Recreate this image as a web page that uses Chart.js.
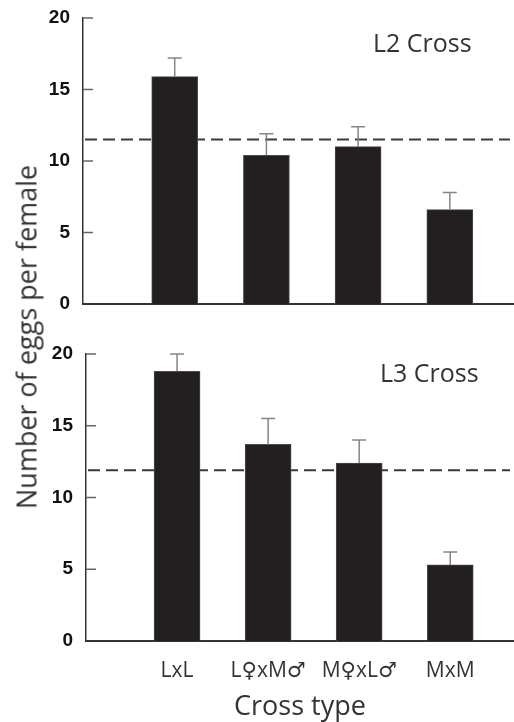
<!DOCTYPE html>
<html>
<head>
<meta charset="utf-8">
<script src="https://cdn.jsdelivr.net/npm/chart.js@4.4.0/dist/chart.umd.min.js"></script>
<style>
  body { margin: 0; background: #fff; }
  #wrap { position: relative; width: 514px; height: 722px; font-family: "Open Sans", sans-serif; color: #333; }
  canvas { position: absolute; left: 0; }
  .tag { position: absolute; font-size: 25px; line-height: 25px; white-space: nowrap; }
  #ytitle { position: absolute; left: 26px; top: 337px; font-size: 27px; white-space: nowrap;
            transform: translate(-50%, -50%) rotate(-90deg); }
</style>
</head>
<body>
<div id="wrap">
  <canvas id="top" width="514" height="330" style="top:0"></canvas>
  <canvas id="bottom" width="514" height="402" style="top:320px"></canvas>
  <div class="tag" style="left:373px; top:30px">L2 Cross</div>
  <div class="tag" style="left:380px; top:360px">L3 Cross</div>
  <div id="ytitle">Number of eggs per female</div>
</div>
<script>
//data
const crossTypes = ["LxL", "L♀xM♂", "M♀xL♂", "MxM"];
const yTicks = [0, 5, 10, 15, 20];

//L2 cross (top)
const l2Means = [15.9, 10.4, 11.0, 6.6];
const l2Upper = [17.2, 11.9, 12.4, 7.8];
const l2Expected = 11.5;

//L3 cross (bottom)
const l3Means = [18.8, 13.7, 12.4, 5.3];
const l3Upper = [20.0, 15.5, 14.0, 6.2];
const l3Expected = 11.9;

//error bars, dashed line and inward ticks
const extras = {
  id: "extras",
  beforeDatasetsDraw(chart, args, opts) {
    const { ctx, chartArea, scales: { y } } = chart;
    const py = y.getPixelForValue(opts.expected);
    ctx.save();
    ctx.strokeStyle = "#3a3a3a";
    ctx.lineWidth = 2;
    ctx.setLineDash([12, 6]);
    ctx.beginPath();
    ctx.moveTo(chartArea.left + 2, py);
    ctx.lineTo(chartArea.right - 4, py);
    ctx.stroke();
    ctx.restore();
  },
  afterDatasetsDraw(chart, args, opts) {
    const { ctx, chartArea, scales: { x, y } } = chart;
    ctx.save();
    ctx.strokeStyle = "#858585";
    ctx.lineWidth = 1.5;
    opts.upper.forEach((v, i) => {
      const px = x.getPixelForValue(i + 1);
      const y0 = y.getPixelForValue(opts.means[i]);
      const y1 = y.getPixelForValue(v);
      ctx.beginPath();
      ctx.moveTo(px, y0);
      ctx.lineTo(px, y1);
      ctx.moveTo(px - 7, y1);
      ctx.lineTo(px + 7, y1);
      ctx.stroke();
    });
    ctx.strokeStyle = "#666";
    yTicks.forEach((t) => {
      if (t === 0) return;
      const py = y.getPixelForValue(t);
      ctx.beginPath();
      ctx.moveTo(chartArea.left, py);
      ctx.lineTo(chartArea.left + 10, py);
      ctx.stroke();
    });
    ctx.restore();
  },
};

function makeChart(id, means, upper, expected, axisLeft, top, showLabels, xHeight) {
  const ctx = document.getElementById(id).getContext("2d");
  return new Chart(ctx, {
    type: "bar",
    data: {
      datasets: [
        {
          data: means.map((v, i) => ({ x: i + 1, y: v })),
          backgroundColor: "#231f20",
          borderColor: "#4a4a4a",
          borderWidth: 1,
          barThickness: 46,
        },
      ],
    },
    plugins: [extras],
    options: {
      responsive: false,
      animation: false,
      layout: { padding: { top: top, right: 0, left: 0, bottom: 0 } },
      plugins: {
        legend: { display: false },
        tooltip: { enabled: false },
        extras: { means: means, upper: upper, expected: expected },
      },
      scales: {
        x: {
          type: "linear",
          min: 0,
          max: 4.7,
          offset: false,
          grid: { display: false, offset: false },
          border: { display: true, color: "#333", width: 2 },
          ticks: {
            display: showLabels,
            stepSize: 1,
            includeBounds: false,
            autoSkip: false,
            maxRotation: 0,
            padding: 9,
            color: "#333",
            font: { family: "'Open Sans', 'DejaVu Sans'", size: 21 },
            callback: (v) => crossTypes[v - 1] || "",
          },
          title: {
            display: showLabels,
            text: "Cross type",
            color: "#333",
            padding: { top: 0, bottom: -2 },
            font: { family: "Open Sans", size: 27 },
          },
          afterFit: (s) => { s.height = xHeight; },
        },
        y: {
          min: 0,
          max: 20,
          grid: { display: false },
          border: { display: true, color: "#333", width: 1.5 },
          ticks: {
            stepSize: 5,
            padding: 5,
            color: "#111",
            font: { family: "Liberation Sans", size: 19, weight: "bold" },
          },
          afterFit: (s) => { s.width = axisLeft; },
        },
      },
    },
  });
}

makeChart("top", l2Means, l2Upper, l2Expected, 83, 18, false, 26);
makeChart("bottom", l3Means, l3Upper, l3Expected, 86, 34, true, 81);
</script>
</body>
</html>
